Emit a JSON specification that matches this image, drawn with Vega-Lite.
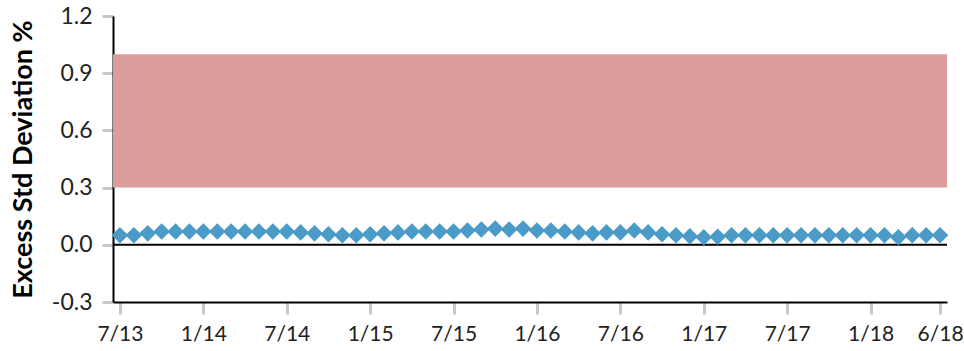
{
  "$schema": "https://vega.github.io/schema/vega-lite/v6.json",
  "width": 834,
  "height": 286,
  "autosize": "none",
  "padding": {"left": 113, "top": 16, "right": 17, "bottom": 49},
  "config": {"view": {"stroke": null}, "font": "Lato"},
  "datasets": {
    "series": [
      {"month": "7/13", "value": 0.05}, {"month": "8/13", "value": 0.05}, {"month": "9/13", "value": 0.06},
      {"month": "10/13", "value": 0.07}, {"month": "11/13", "value": 0.07}, {"month": "12/13", "value": 0.07},
      {"month": "1/14", "value": 0.07}, {"month": "2/14", "value": 0.07}, {"month": "3/14", "value": 0.07},
      {"month": "4/14", "value": 0.07}, {"month": "5/14", "value": 0.07}, {"month": "6/14", "value": 0.07},
      {"month": "7/14", "value": 0.07}, {"month": "8/14", "value": 0.065}, {"month": "9/14", "value": 0.06},
      {"month": "10/14", "value": 0.055}, {"month": "11/14", "value": 0.05}, {"month": "12/14", "value": 0.05},
      {"month": "1/15", "value": 0.055}, {"month": "2/15", "value": 0.06}, {"month": "3/15", "value": 0.065},
      {"month": "4/15", "value": 0.07}, {"month": "5/15", "value": 0.07}, {"month": "6/15", "value": 0.07},
      {"month": "7/15", "value": 0.07}, {"month": "8/15", "value": 0.075}, {"month": "9/15", "value": 0.08},
      {"month": "10/15", "value": 0.085}, {"month": "11/15", "value": 0.08}, {"month": "12/15", "value": 0.085},
      {"month": "1/16", "value": 0.075}, {"month": "2/16", "value": 0.075}, {"month": "3/16", "value": 0.07},
      {"month": "4/16", "value": 0.065}, {"month": "5/16", "value": 0.06}, {"month": "6/16", "value": 0.065},
      {"month": "7/16", "value": 0.065}, {"month": "8/16", "value": 0.075}, {"month": "9/16", "value": 0.065},
      {"month": "10/16", "value": 0.055}, {"month": "11/16", "value": 0.05}, {"month": "12/16", "value": 0.045},
      {"month": "1/17", "value": 0.04}, {"month": "2/17", "value": 0.042}, {"month": "3/17", "value": 0.05},
      {"month": "4/17", "value": 0.05}, {"month": "5/17", "value": 0.05}, {"month": "6/17", "value": 0.05},
      {"month": "7/17", "value": 0.05}, {"month": "8/17", "value": 0.05}, {"month": "9/17", "value": 0.05},
      {"month": "10/17", "value": 0.05}, {"month": "11/17", "value": 0.05}, {"month": "12/17", "value": 0.05},
      {"month": "1/18", "value": 0.05}, {"month": "2/18", "value": 0.05}, {"month": "3/18", "value": 0.04},
      {"month": "4/18", "value": 0.05}, {"month": "5/18", "value": 0.05}, {"month": "6/18", "value": 0.05}
    ],
    "band": [{"lo": 0.3, "hi": 1.0}],
    "zero": [{"y": 0}]
  },
  "layer": [
    {
      "data": {"name": "band"},
      "mark": {"type": "rect", "color": "#dc9c9c"},
      "encoding": {
        "y": {"field": "lo", "type": "quantitative", "title": "Excess Std Deviation %",
              "scale": {"domain": [-0.3, 1.2], "nice": false, "zero": false}},
        "y2": {"field": "hi"}
      }
    },
    {
      "data": {"name": "zero"},
      "mark": {"type": "rule", "color": "black", "strokeWidth": 2},
      "encoding": {
        "y": {"field": "y", "type": "quantitative", "title": "Excess Std Deviation %"}
      }
    },
    {
      "data": {"name": "series"},
      "mark": {"type": "point", "shape": "diamond", "filled": true, "size": 275, "color": "#4a9bc8", "opacity": 1},
      "encoding": {
        "x": {
          "field": "month", "type": "ordinal", "sort": null,
          "scale": {"type": "point", "padding": 0.5},
          "axis": {
            "values": ["7/13", "1/14", "7/14", "1/15", "7/15", "1/16", "7/16", "1/17", "7/17", "1/18", "6/18"],
            "labelAngle": 0, "title": null, "grid": false,
            "domainColor": "black", "domainWidth": 2,
            "tickColor": "#c5c9cc", "tickWidth": 3, "tickSize": 12,
            "labelFontSize": 21, "labelColor": "#222222", "labelPadding": 9
          }
        },
        "y": {
          "field": "value", "type": "quantitative", "title": "Excess Std Deviation %",
          "axis": {
            "values": [-0.3, 0, 0.3, 0.6, 0.9, 1.2],
            "labelExpr": "replace(format(datum.value, '.1f'), '\u2212', '-')",
            "grid": false,
            "domainColor": "black", "domainWidth": 2,
            "tickColor": "#c5c9cc", "tickWidth": 3, "tickSize": 11,
            "labelFontSize": 23, "labelColor": "#222222", "labelPadding": 10,
            "titleFontSize": 27, "titleFontWeight": "bold", "titleColor": "black", "titlePadding": 14
          }
        }
      }
    }
  ]
}
